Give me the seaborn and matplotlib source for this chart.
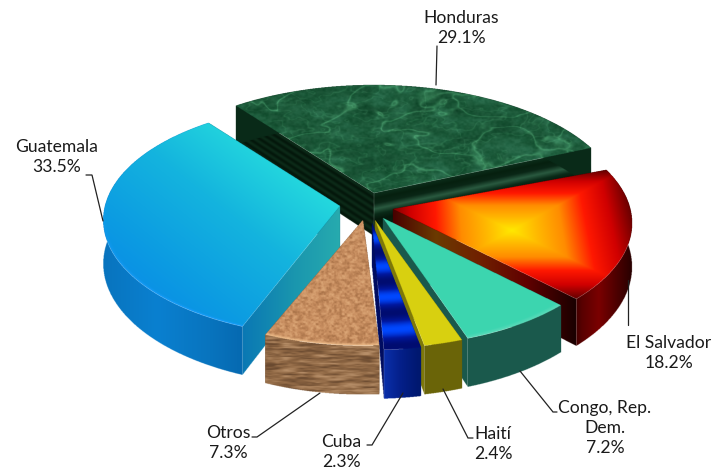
import numpy as np
import seaborn as sns
import matplotlib
matplotlib.use("Agg")
import matplotlib.pyplot as plt
from matplotlib.path import Path

# values (order = counter-clockwise round the pie)
countries = ["Honduras", "Guatemala", "Otros", "Cuba", "Haití", "Congo, Rep.\nDem.", "El Salvador"]
shares = [29.1, 33.5, 7.3, 2.3, 2.4, 7.2, 18.2]

# layout of the exploded slices (pixel position of each slice tip), and draw order back to front
tips = [(374, 193), (340, 206), (363, 220), (372, 223), (375, 220), (383, 218), (393, 209)]
radius_scale = [1.05, 1.0, 0.96, 0.97, 0.98, 0.98, 1.01]
angle_nudge = [0, 0, -1, -2, -2, -2.5, -2.5]
draw_order = [0, 6, 1, 5, 4, 3, 2]
label_pos = [(461, 28), (57, 157), (228, 443), (341, 452), (493, 444), (605, 428), (669, 353)]
leaders = [
    [(437, 46), (436, 85)],
    [(86, 175), (92, 175), (103, 221)],
    [(252, 437), (257, 437), (320, 393)],
    [(367, 445), (372, 445), (403, 393)],
    [(473, 438), (468, 438), (443, 389)],
    [(557, 412), (553, 412), (520, 371)],
    [(628, 325), (628, 280)],
]

START = 23
R, Q, P, H = 235.0, 0.49, 0.12, 43.0
SS = 3

sns.set_theme(style="white")
plt.rcParams["font.family"] = ["Lato", "DejaVu Sans"]

fig = plt.figure(figsize=(7.12, 4.70), dpi=100)
ax = fig.add_axes([0, 0, 1, 1])
wedges, _ = ax.pie(shares, startangle=START, counterclock=True)
angles = [(w.theta1 + n, w.theta2 + n) for w, n in zip(wedges, angle_nudge)]
for w in wedges:
    w.remove()


def ramp(*cols):
    return sns.blend_palette(cols, n_colors=256, as_cmap=True)


def grad(cmap, t):
    return cmap(np.clip(t, 0, 1))[..., :3]


def hash2(i, j):
    v = np.sin(i * 127.1 + j * 311.7) * 43758.5453
    return v - np.floor(v)


def vnoise(x, y):
    i, j = np.floor(x), np.floor(y)
    fx, fy = x - i, y - j
    fx = fx * fx * (3 - 2 * fx)
    fy = fy * fy * (3 - 2 * fy)
    a = hash2(i, j) * (1 - fx) + hash2(i + 1, j) * fx
    b = hash2(i, j + 1) * (1 - fx) + hash2(i + 1, j + 1) * fx
    return a * (1 - fy) + b * fy


def fbm(x, y, octaves=4):
    out, amp, tot = 0, 1.0, 0
    for k in range(octaves):
        out = out + amp * vnoise(x * 2**k + k * 7.3, y * 2**k - k * 3.1)
        tot += amp
        amp *= 0.55
    return out / tot


def project(t, x, y, z, rs=1.0):
    s = 1 / (1 + P * y)
    return t[0] + R * rs * x * s, t[1] - R * rs * Q * y * s + H * z * s


def to_disc(t, X, Y, rs=1.0):
    yp = (t[1] - Y) / (R * rs * Q)
    y = yp / (1 - P * yp)
    s = 1 / (1 + P * y)
    return (X - t[0]) / (R * rs * s), y


def edge_coords(t, X, Y, theta, rs=1.0):
    c, n = np.cos(np.radians(theta)), np.sin(np.radians(theta))
    dx = X - t[0]
    u = dx / (R * rs * c - P * dx * n)
    s = 1 / (1 + P * u * n)
    z = (Y - (t[1] - R * rs * Q * u * n * s)) / (H * s)
    return u, z


def paint(points, colour):
    path = Path(points)
    xs, ys = zip(*points)
    x0, x1 = int(min(xs)) - 2, int(max(xs)) + 3
    y0, y1 = int(min(ys)) - 2, int(max(ys)) + 3
    gx = x0 + (np.arange((x1 - x0) * SS) + 0.5) / SS
    gy = y0 + (np.arange((y1 - y0) * SS) + 0.5) / SS
    X, Y = np.meshgrid(gx, gy)
    inside = path.contains_points(np.c_[X.ravel(), Y.ravel()]).reshape(X.shape)
    rgb = colour(X, Y)
    rgba = np.dstack([rgb, inside.astype(float)])
    ax.imshow(rgba, extent=(x0, x1, y1, y0), aspect="auto", interpolation="hanning",
              interpolation_stage="rgba")


def flat(col):
    c = np.array(matplotlib.colors.to_rgb(col))
    return lambda X, Y: np.ones(X.shape + (3,)) * c


# --- surface colours -------------------------------------------------------
marble = ramp("#12462B", "#1B5838", "#2A6E4E")
hond_wall_r = ramp("#0C2E1B", "#06200F", "#0A2616", "#2A5A40", "#0A2A18", "#05190C", "#06200F",
                   "#0B2817", "#05190C")
hond_stripe = ramp("#04170B", "#0C2A18")
blue_top = ramp("#0785E8", "#0C9CE2", "#14B4DE", "#25DADD")
blue_side = ramp("#0462A8", "#0874BE", "#0A80D0", "#0874BE")
blue_face = ramp("#27ABAE", "#1A96AE", "#0A78B4")
fire = ramp("#FFE800", "#FFB800", "#FF8C00", "#FF1800", "#D00000", "#600000")
fire_face = ramp("#4A0000", "#6B3A00", "#702000", "#600000", "#1A0000")
fire_side = ramp("#200000", "#5A0000", "#7A0000", "#500000", "#280000")
cork = ramp("#A87248", "#C88E60", "#DCA878")
wood = ramp("#6A4A30", "#926A46", "#B8906A")
cuba_top = ramp("#000C70", "#0018A0", "#0048FF")
cuba_side = ramp("#0A2EA8", "#041F88", "#001870")


def ridge(x, y):
    return 1 - np.abs(2 * fbm(x, y, 3) - 1)


def hond_top(X, Y):
    rgb = grad(marble, fbm(X / 20, Y / 10) * 1.3 - 0.15)
    warp = fbm(X / 50 + 5, Y / 28 + 2, 2)
    wide = np.clip((ridge(X / 48 + warp, Y / 22 - warp) - 0.90) / 0.10, 0, 1)
    fine = np.clip((ridge(X / 20 - warp, Y / 10 + warp) - 0.90) / 0.10, 0, 1)
    glow = (0.75 * wide**2 + 0.35 * fine**2)[..., None]
    grain = (fbm(X / 3, Y / 2, 2) - 0.5)[..., None] * 0.08
    return np.clip(rgb + glow * np.array([0.16, 0.24, 0.18]) + grain, 0, 1)


def hond_right_face(X, Y):
    u, z = edge_coords(tips[0], X, Y, angles[0][0], radius_scale[0])
    return grad(hond_wall_r, z)


def hond_left_face(X, Y):
    u, z = edge_coords(tips[0], X, Y, angles[0][1], radius_scale[0])
    return grad(hond_stripe, 0.5 + 0.5 * np.sin(z * 38))


def guat_top(X, Y):
    rgb = grad(blue_top, ((X - 130) * 0.62 + (330 - Y) * 0.78) / 230)
    x, y = to_disc(tips[1], X, Y)
    r = np.hypot(x, y)
    rim = np.clip((r - 0.985) / 0.015, 0, 1)[..., None] * np.clip(-y + 0.1, 0, 1)[..., None]
    return rgb * (1 - rim) + rim * np.array([0.10, 0.62, 1.0])


def guat_face(X, Y):
    u, z = edge_coords(tips[1], X, Y, angles[1][1])
    return grad(blue_face, u)


def guat_side(X, Y):
    return grad(blue_side, 1 - (X - 103) / 145 * 0.9)


def fire_top(X, Y):
    x, y = to_disc(tips[6], X, Y, radius_scale[6])
    d = np.maximum(np.abs(x - 0.49) / 0.52, np.abs(y + 0.18) / 0.53)
    return grad(fire, d)


def fire_wall_face(X, Y):
    u, z = edge_coords(tips[6], X, Y, angles[6][0], radius_scale[6])
    return grad(fire_face, u)


def fire_wall(X, Y):
    return grad(fire_side, (X - 566) / 66)


def congo_top(X, Y):
    x, y = to_disc(tips[5], X, Y, radius_scale[5])
    rim = np.clip((np.hypot(x, y) - 0.975) / 0.025, 0, 1)[..., None]
    base = np.array(matplotlib.colors.to_rgb("#3CD5B0"))
    return base * (1 - rim * 0.35) + rim * 0.35 * np.array([0.6, 0.9, 0.8])


def cuba_strip(X, Y):
    x, y = to_disc(tips[3], X, Y, radius_scale[3])
    r = np.hypot(x, y)
    return grad(cuba_top, 0.5 + 0.5 * np.sin(r * 26 - 1.9))


def cuba_wall(X, Y):
    return grad(cuba_side, (X - 385) / 33)


def otros_top(X, Y):
    x, y = to_disc(tips[2], X, Y, radius_scale[2])
    rgb = grad(cork, fbm(X / 2.6, Y / 2.0, 3) * 1.5 - 0.25)
    rim = np.clip((np.hypot(x, y) - 0.978) / 0.022, 0, 1)[..., None]
    return rgb * (1 - rim) + rim * np.array([0.95, 0.76, 0.56])


def otros_wall(X, Y):
    return grad(wood, fbm(X / 16, Y / 1.8, 3) * 1.7 - 0.35)


tops = [hond_top, guat_top, otros_top, cuba_strip, flat("#D8D010"), congo_top, fire_top]
walls = [flat("#0A2A18"), guat_side, otros_wall, cuba_wall, flat("#6A6408"), flat("#1A5A4C"), fire_wall]
start_faces = [hond_right_face, flat("#0A5A70"), flat("#6E4C30"), flat("#000C60"),
               flat("#7D780A"), flat("#1A5A4C"), fire_wall_face]
end_faces = [hond_left_face, guat_face, flat("#6E4C30"), flat("#001870"),
             flat("#6A6408"), flat("#1A5A4C"), flat("#300000")]

for i in draw_order:
    t, rs = tips[i], radius_scale[i]
    th1, th2 = angles[i]
    th = np.radians(np.linspace(th1, th2, 80))
    top_arc = [project(t, np.cos(a), np.sin(a), 0, rs) for a in th]
    low_arc = [project(t, np.cos(a), np.sin(a), 1, rs) for a in th]
    tip_low = project(t, 0, 0, 1, rs)
    # radial faces first, nearer one last; outer wall and top cover what cannot be seen
    face_end = ([t, top_arc[-1], low_arc[-1], tip_low], end_faces[i])
    face_start = ([t, top_arc[0], low_arc[0], tip_low], start_faces[i])
    for pts, col in sorted([face_end, face_start], key=lambda f: f[0][1][1]):
        paint(pts, col)
    paint(top_arc + low_arc[::-1], walls[i])
    paint([t] + top_arc, tops[i])

for name, share, (lx, ly), pts in zip(countries, shares, label_pos, leaders):
    xs, ys = zip(*pts)
    ax.plot(xs, ys, color="#222222", lw=0.9, solid_joinstyle="miter")
    ax.text(lx, ly, f"{name}\n{share:.1f}%", ha="center", va="center", fontsize=12.6,
            color="#1a1a1a", linespacing=1.3)

ax.set_xlim(0, 712)
ax.set_ylim(470, 0)
ax.set_aspect("auto")
ax.axis("off")
fig.savefig("out.png", dpi=100, facecolor="white")
